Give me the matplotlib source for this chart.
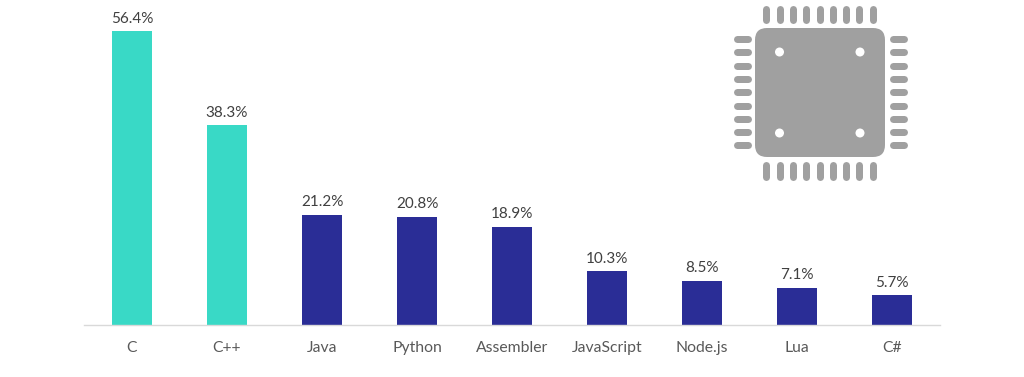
"""Bar chart of embedded programming languages with a chip icon in the corner."""

import matplotlib

matplotlib.use("Agg")
import matplotlib.pyplot as plt
from matplotlib.patches import Circle, FancyBboxPatch

languages = ["C", "C++", "Java", "Python", "Assembler", "JavaScript", "Node.js", "Lua", "C#"]
shares = [56.4, 38.3, 21.2, 20.8, 18.9, 10.3, 8.5, 7.1, 5.7]

TEAL = "#39d9c6"
NAVY = "#2a2d96"
GREY = "#a0a0a0"
bar_colors = [TEAL, TEAL] + [NAVY] * 7

W, H = 1024, 377
plt.rcParams["font.family"] = ["Lato", "DejaVu Sans"]

fig = plt.figure(figsize=(W / 100, H / 100), dpi=100)

# axes box in pixels: spine runs 84..940, baseline at y=325
left, right, top, base = 84, 940, 10, 325
ax = fig.add_axes([left / W, 1 - base / H, (right - left) / W, (base - top) / H])
ax.bar(range(len(languages)), shares, width=0.418, color=bar_colors)
ax.set_xlim(-0.505, 8.505)
ax.set_ylim(0, (base - top) / 5.21)
for i, v in enumerate(shares):
    ax.annotate(f"{v}%", (i, v), xytext=(0, 4), textcoords="offset points",
                ha="center", va="bottom", fontsize=11, color="#404040")

ax.set_xticks(range(len(languages)), languages)
ax.tick_params(axis="x", length=0, pad=11.7, labelsize=11.3, labelcolor="#595959")
ax.set_yticks([])
for side in ("top", "left", "right"):
    ax.spines[side].set_visible(False)
ax.spines["bottom"].set_color("#d9d9d9")
ax.spines["bottom"].set_linewidth(1)

# chip icon, drawn in pixel coordinates on an overlay
icon = fig.add_axes([0, 0, 1, 1])
icon.set_xlim(0, W)
icon.set_ylim(H, 0)
icon.axis("off")
icon.patch.set_alpha(0)

icon.add_patch(FancyBboxPatch((765, 38), 110, 109, boxstyle="round,pad=10,rounding_size=12",
                              fc=GREY, ec="none"))
for x in (779.5, 860):
    for y in (52, 133):
        icon.add_patch(Circle((x, y), 4.5, fc="white", ec="none"))

pin_offsets = [13.3 * k for k in range(9)]
pin_lw = 7 * 72 / 100
for d in pin_offsets:
    x = 766.3 + d
    icon.plot([x, x], [8.5, 20], color=GREY, lw=pin_lw, solid_capstyle="round")
    icon.plot([x, x], [164.5, 176.5], color=GREY, lw=pin_lw, solid_capstyle="round")
    y = 39 + d
    icon.plot([736.5, 748], [y, y], color=GREY, lw=pin_lw, solid_capstyle="round")
    icon.plot([892.5, 904], [y, y], color=GREY, lw=pin_lw, solid_capstyle="round")

fig.savefig("out.png", dpi=100)
plt.close(fig)
